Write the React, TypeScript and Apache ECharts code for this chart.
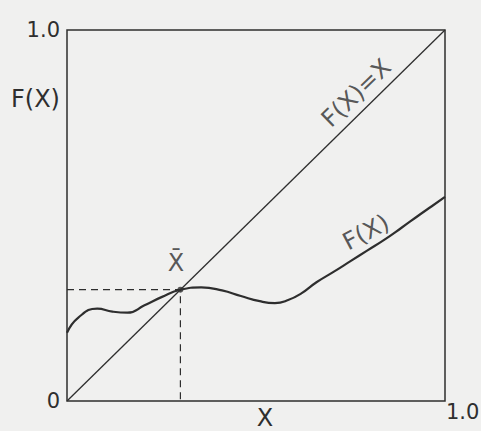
import React, { useEffect, useRef } from "react";
import * as echarts from "echarts";

// Fixed point of F, where the curve meets the diagonal F(X) = X
const FIXED_POINT = 0.3;

// Sampled values of the curve F(X)
const curveX = [0, 0.03, 0.08, 0.12, 0.16, 0.205, 0.25, 0.3, 0.355, 0.41, 0.46, 0.51, 0.55, 0.585, 0.62, 0.66, 0.705, 0.75, 0.795, 0.84, 0.885, 0.93, 0.965, 1.0];
const curveY = [0.184, 0.225, 0.249, 0.241, 0.238, 0.258, 0.28, 0.3, 0.306, 0.298, 0.283, 0.269, 0.264, 0.272, 0.29, 0.32, 0.348, 0.377, 0.406, 0.435, 0.467, 0.5, 0.525, 0.55];

// Diagonal reference line F(X) = X
const diagonalX = [0, 1];

// Axis tick labels
const yTickLabels: Record<number, string> = { 0: "0", 1: "1.0" };
const xTickLabels: Record<number, string> = { 1: "1.0" };

const FONT = "'DejaVu Sans', sans-serif";
const INK = "#2e2e2e";
const FS = 24; // letters
const FS_NUM = 21; // tick numbers

export default function App() {
  const ref = useRef<HTMLDivElement>(null);

  useEffect(() => {
    if (!ref.current) return;
    const chart = echarts.init(ref.current, undefined, { renderer: "svg" });

    const curve = curveX.map((x, i) => [x, curveY[i]]);
    const diagonal = diagonalX.map((x) => [x, x]);
    const guides = [
      [0, FIXED_POINT],
      [FIXED_POINT, FIXED_POINT],
      [FIXED_POINT, 0],
    ];

    const text = { fontSize: FS, color: INK, fontFamily: FONT };
    const num = { fontSize: FS_NUM, color: INK, fontFamily: FONT };

    chart.setOption({
      animation: false,
      backgroundColor: "#f0f0ef",
      textStyle: { fontFamily: FONT },
      grid: {
        left: 67,
        right: 36,
        top: 30,
        bottom: 30,
        containLabel: false,
        outerBoundsMode: "none",
        show: true,
        borderColor: INK,
        borderWidth: 1.5,
        backgroundColor: "transparent",
      },
      xAxis: {
        type: "value",
        min: 0,
        max: 1,
        interval: 1,
        name: "X",
        nameLocation: "middle",
        nameGap: 5,
        nameMoveOverlap: false,
        nameTextStyle: { ...text, lineHeight: 24, padding: [0, 0, 0, 18] },
        axisLine: { show: false },
        axisTick: { show: false },
        splitLine: { show: false },
        axisLabel: {
          ...num,
          formatter: (v: number) => xTickLabels[v] ?? "",
          align: "left",
          margin: 0,
          padding: [0, 0, 0, 1],
        },
      },
      yAxis: {
        type: "value",
        min: 0,
        max: 1,
        interval: 1,
        axisLine: { show: false },
        axisTick: { show: false },
        splitLine: { show: false },
        axisLabel: {
          ...num,
          formatter: (v: number) => yTickLabels[v] ?? "",
          margin: 7,
        },
      },
      graphic: [
        {
          type: "text",
          left: 11,
          top: 87,
          style: { text: "F(X)", fontSize: FS, fill: INK, fontFamily: FONT },
        },
      ],
      series: [
        {
          type: "line",
          data: diagonal,
          symbol: "none",
          lineStyle: { color: INK, width: 1.3 },
        },
        {
          type: "line",
          data: guides,
          symbol: "none",
          lineStyle: { color: INK, width: 1.2, type: [7, 5] },
        },
        {
          type: "line",
          data: curve,
          smooth: 0.5,
          symbol: "none",
          lineStyle: { color: INK, width: 2.2 },
        },
        {
          type: "scatter",
          data: [[FIXED_POINT, FIXED_POINT]],
          symbolSize: 6,
          itemStyle: { color: INK },
        },
        {
          type: "scatter",
          symbolSize: 0,
          silent: true,
          label: {
            ...text,
            show: true,
            position: "inside",
            formatter: (p: any) => p.data.text,
          },
          data: [
            { value: [0.288, 0.372], text: "X\u0304" },
            { value: [0.765, 0.83], text: "F(X)=X", label: { rotate: 44 } },
            { value: [0.791, 0.455], text: "F(X)", label: { rotate: 28 } },
          ],
        },
      ],
    });

    return () => chart.dispose();
  }, []);

  return (
    <div
      ref={ref}
      style={{ position: "absolute", left: 0, top: 0, width: 481, height: 431 }}
    />
  );
}
